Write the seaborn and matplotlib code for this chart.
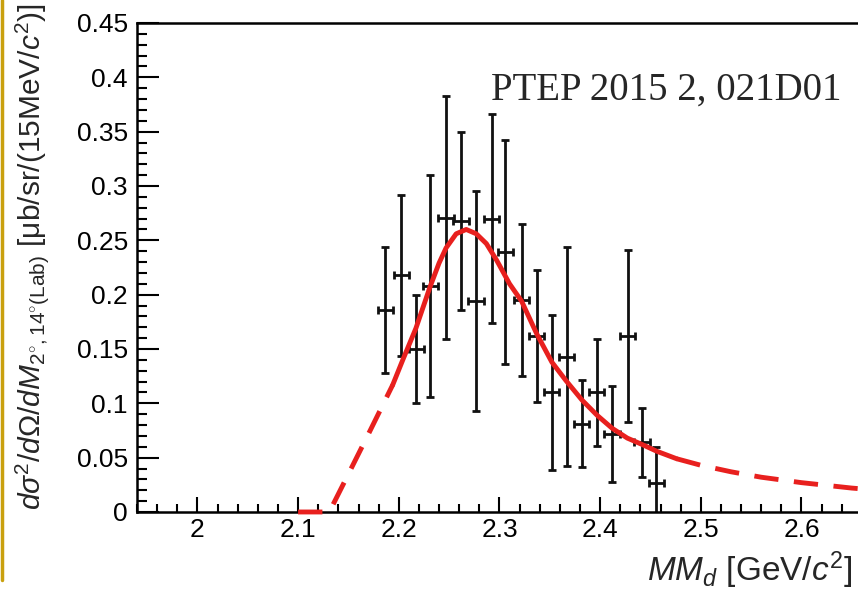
import matplotlib
matplotlib.use("Agg")
import matplotlib.pyplot as plt
import seaborn as sns
from matplotlib.ticker import MultipleLocator, FormatStrFormatter

# data points (bin centre, cross section, error)
mm_d = [2.1867, 2.2023, 2.2172, 2.2314, 2.2469, 2.2618, 2.2767, 2.2923, 2.3059, 2.3221,
        2.3370, 2.3519, 2.3668, 2.3816, 2.3965, 2.4118, 2.4273, 2.4416, 2.4560]
xsec = [0.186, 0.218, 0.150, 0.208, 0.271, 0.268, 0.194, 0.270, 0.239, 0.195,
        0.162, 0.110, 0.143, 0.081, 0.110, 0.072, 0.162, 0.064, 0.027]
xsec_err = [0.058, 0.074, 0.050, 0.102, 0.112, 0.082, 0.101, 0.096, 0.103, 0.070,
            0.061, 0.071, 0.101, 0.040, 0.049, 0.044, 0.079, 0.032, 0.033]
bin_half = 0.0075

# fit curve
fit_lo_x = [2.100, 2.128, 2.131, 2.150, 2.170, 2.194]
fit_lo_y = [0.0, 0.0, 0.0, 0.035, 0.072, 0.117]
fit_mid_x = [2.194, 2.204, 2.217, 2.231, 2.240, 2.247, 2.257, 2.267, 2.277, 2.287,
             2.297, 2.300, 2.310, 2.322, 2.337, 2.352, 2.366, 2.382, 2.397, 2.412,
             2.427, 2.442, 2.456, 2.476]
fit_mid_y = [0.117, 0.140, 0.169, 0.207, 0.229, 0.243, 0.256, 0.260, 0.256, 0.247,
             0.232, 0.227, 0.210, 0.194, 0.164, 0.138, 0.121, 0.103, 0.089, 0.077,
             0.068, 0.062, 0.056, 0.049]
fit_hi_x = [2.476, 2.500, 2.530, 2.560, 2.600, 2.650, 2.690]
fit_hi_y = [0.049, 0.043, 0.037, 0.032, 0.027, 0.022, 0.019]

sns.set_style("ticks")
plt.rcParams['font.family'] = ['Liberation Sans', 'DejaVu Sans']
plt.rcParams['mathtext.fontset'] = 'custom'
plt.rcParams['mathtext.rm'] = 'Liberation Sans'
plt.rcParams['mathtext.it'] = 'Liberation Sans:italic'

fig = plt.figure(figsize=(8.58, 5.91), dpi=100)
ax = fig.add_axes([0.1597, 0.1337, 0.880, 0.8274])

ax.errorbar(mm_d, xsec, yerr=xsec_err, xerr=bin_half, fmt='none', ecolor='#111111',
            elinewidth=2.0, capsize=3.2, capthick=2.0, zorder=2)

red = '#e8201e'
sns.lineplot(x=fit_lo_x, y=fit_lo_y, ax=ax, color=red, lw=3.5,
             linestyle=(0, (5, 3.2)), zorder=4, clip_on=False)
sns.lineplot(x=fit_mid_x, y=fit_mid_y, ax=ax, color=red, lw=3.5, zorder=4)
sns.lineplot(x=fit_hi_x, y=fit_hi_y, ax=ax, color=red, lw=3.5,
             linestyle=(0, (5, 3.2)), zorder=4)

ax.set_xlim(1.94, 2.69)
ax.set_ylim(0, 0.45)
ax.xaxis.set_major_locator(MultipleLocator(0.1))
ax.xaxis.set_minor_locator(MultipleLocator(0.02))
ax.yaxis.set_major_locator(MultipleLocator(0.05))
ax.yaxis.set_minor_locator(MultipleLocator(0.01))
ax.xaxis.set_major_formatter(FormatStrFormatter('%g'))
ax.yaxis.set_major_formatter(FormatStrFormatter('%g'))

ax.tick_params(axis='both', which='both', direction='in', width=1.5, colors='black',
               labelsize=19)
ax.tick_params(axis='y', which='major', length=16, pad=6.5)
ax.tick_params(axis='y', which='minor', length=7)
ax.tick_params(axis='x', which='major', length=11, pad=4.5)
ax.tick_params(axis='x', which='minor', length=5.5)
for side in ['left', 'bottom', 'top']:
    ax.spines[side].set_linewidth(1.8)
    ax.spines[side].set_color('black')
ax.spines['right'].set_visible(False)

fig.text(852 / 858, 1 - 581 / 591, r"$MM_d$ [GeV/$c^2$]", ha='right', va='baseline',
         fontsize=24)
fig.text(32 / 858, 1 - 3 / 591,
         r"$d\sigma^{2}/d\Omega/dM_{2^{\circ},14^{\circ}(\mathrm{Lab})}$ [μb/sr/(15MeV/$c^2$)]",
         rotation=90, ha='center', va='top', fontsize=21.5)
fig.text(491 / 858, 1 - 100 / 591, "PTEP 2015 2, 021D01", ha='left', va='baseline',
         fontsize=28, family='Liberation Serif')

# gold bar on the left edge of the slide
fig.add_artist(plt.Line2D([2 / 858, 2 / 858], [1, 1 - 580 / 591], color='#c9a00e', lw=2.5))

fig.savefig("out.png", dpi=100)
